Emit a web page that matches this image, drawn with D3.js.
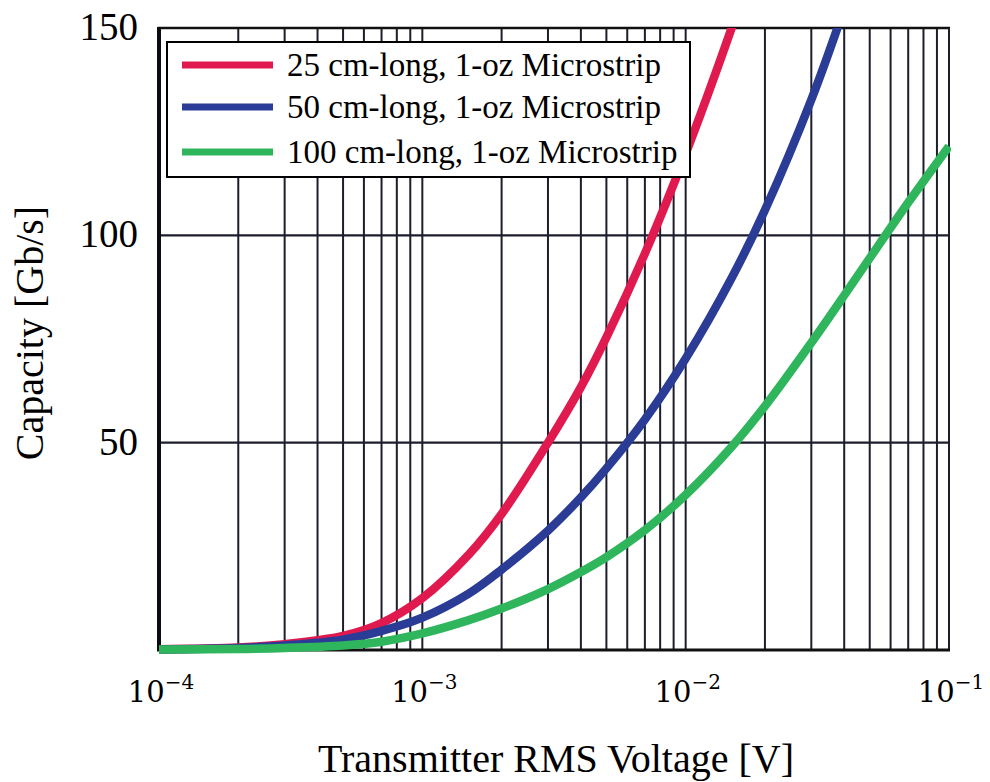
<!DOCTYPE html>
<html>
<head>
<meta charset="utf-8">
<script src="https://cdn.jsdelivr.net/npm/d3@7"></script>
<style>
  html, body { margin: 0; padding: 0; background: #fff; }
  svg { display: block; }
</style>
</head>
<body>
<svg id="chart" width="990" height="782"></svg>
<script>
// Transmitter RMS voltage samples [V]
const voltage = [1e-4, 2e-4, 3e-4, 5e-4, 7e-4, 1e-3, 1.5e-3, 2e-3, 3e-3, 4e-3, 5e-3, 7e-3, 1e-2, 1.5e-2, 2e-2, 3e-2, 4e-2, 5e-2, 7e-2, 1e-1];

// Capacity [Gb/s] for each microstrip length (null = beyond the top of the plot)
const cap25  = [0.2, 0.6, 1.4, 3.4, 6.5, 12.5, 23.0, 32.8, 50.0, 63.4, 75.4, 95.6, 119.7, 150.3, 174, null, null, null, null, null];
const cap50  = [0.15, 0.5, 1.1, 2.5, 4.6, 7.8, 13.6, 19.4, 28.8, 36.8, 43.8, 55.6, 70.3, 89.9, 106.1, 132.7, 154.7, null, null, null];
const cap100 = [0.1, 0.25, 0.5, 1.1, 2.0, 4.0, 7.2, 10.0, 14.7, 18.8, 22.4, 28.9, 37.4, 49.1, 58.8, 74.1, 85.5, 94.5, 107.9, 121.5];

const seriesNames = ["25 cm-long, 1-oz Microstrip", "50 cm-long, 1-oz Microstrip", "100 cm-long, 1-oz Microstrip"];
const seriesValues = [cap25, cap50, cap100];
const seriesColors = ["#e01a4f", "#2a3c96", "#2fb55c"];

const yTicks = [50, 100, 150];
const yGridValues = [50, 100];
const xDecades = [-4, -3, -2, -1];

const svg = d3.select("#chart");
const plotL = 159, plotR = 949, plotT = 28, plotB = 650;

const x = d3.scaleLog().domain([1e-4, 1e-1]).range([plotL, plotR]);
const y = d3.scaleLinear().domain([0, 150]).range([plotB, plotT]);

const gridColor = "#1d1d2c";
const serif = "'Liberation Serif', 'Times New Roman', serif";

// vertical log grid: 1..9 within each decade
const minorX = [];
for (let e = -4; e < -1; e++) for (let m = 1; m <= 9; m++) minorX.push(m * Math.pow(10, e));
minorX.push(1e-1);

const grid = svg.append("g");
grid.selectAll("line.v").data(minorX).enter().append("line")
  .attr("x1", d => x(d)).attr("x2", d => x(d))
  .attr("y1", plotT).attr("y2", plotB)
  .attr("stroke", gridColor).attr("stroke-width", 2);
grid.selectAll("line.h").data(yGridValues).enter().append("line")
  .attr("x1", plotL).attr("x2", plotR)
  .attr("y1", d => y(d)).attr("y2", d => y(d))
  .attr("stroke", gridColor).attr("stroke-width", 2.2);

// frame
svg.append("line").attr("x1", plotL - 1).attr("x2", plotR + 1).attr("y1", plotT).attr("y2", plotT)
  .attr("stroke", "#111").attr("stroke-width", 2.5);
svg.append("line").attr("x1", plotR).attr("x2", plotR).attr("y1", plotT).attr("y2", plotB)
  .attr("stroke", gridColor).attr("stroke-width", 2);
svg.append("line").attr("x1", plotL - 2).attr("x2", plotR + 1).attr("y1", plotB).attr("y2", plotB)
  .attr("stroke", "#111").attr("stroke-width", 3);
svg.append("line").attr("x1", plotL).attr("x2", plotL).attr("y1", plotT - 1).attr("y2", plotB + 1)
  .attr("stroke", "#0b0b12").attr("stroke-width", 4);

// curves
svg.append("clipPath").attr("id", "plotClip").append("rect")
  .attr("x", plotL).attr("y", plotT).attr("width", plotR - plotL + 2).attr("height", plotB - plotT + 12);

const line = d3.line()
  .defined(d => d[1] != null)
  .x(d => x(d[0])).y(d => y(d[1]))
  .curve(d3.curveCatmullRom.alpha(0.5));

const curves = svg.append("g").attr("clip-path", "url(#plotClip)");
seriesValues.forEach((vals, i) => {
  curves.append("path")
    .datum(voltage.map((v, j) => [v, vals[j]]))
    .attr("d", line)
    .attr("fill", "none")
    .attr("stroke", seriesColors[i])
    .attr("stroke-width", 8.5)
    .attr("stroke-linecap", "butt");
});

// y tick labels
svg.append("g").selectAll("text").data(yTicks).enter().append("text")
  .attr("x", 138).attr("y", d => y(d) + 12)
  .attr("text-anchor", "end")
  .attr("font-family", serif).attr("font-size", 39)
  .attr("fill", "#000")
  .text(d => d);

// x tick labels: 10^n
const xl = svg.append("g").selectAll("text").data(xDecades).enter().append("text")
  .attr("x", d => x(Math.pow(10, d)) + 2).attr("y", 702)
  .attr("text-anchor", "middle")
  .attr("font-family", "'DejaVu Serif', serif").attr("font-size", 29)
  .attr("fill", "#000");
xl.append("tspan").text("10");
xl.append("tspan").attr("dy", -13).attr("font-size", 20).text(d => "\u2212" + Math.abs(d));

// axis titles
svg.append("text")
  .attr("x", 556).attr("y", 772)
  .attr("text-anchor", "middle")
  .attr("font-family", serif).attr("font-size", 40)
  .attr("fill", "#000")
  .text("Transmitter RMS Voltage [V]");
svg.append("text")
  .attr("transform", "translate(43,333) rotate(-90)")
  .attr("text-anchor", "middle")
  .attr("font-family", serif).attr("font-size", 40)
  .attr("fill", "#000")
  .text("Capacity [Gb/s]");

// legend
const legend = svg.append("g");
legend.append("rect")
  .attr("x", 167).attr("y", 42).attr("width", 523).attr("height", 135)
  .attr("fill", "#fff").attr("stroke", "#000").attr("stroke-width", 2);
const legY = [65, 107, 152];
seriesNames.forEach((name, i) => {
  legend.append("line")
    .attr("x1", 182).attr("x2", 273).attr("y1", legY[i]).attr("y2", legY[i])
    .attr("stroke", seriesColors[i]).attr("stroke-width", 7);
  legend.append("text")
    .attr("x", 287).attr("y", legY[i] + 11)
    .attr("font-family", serif).attr("font-size", 33)
    .attr("fill", "#000")
    .text(name);
});
</script>
</body>
</html>
